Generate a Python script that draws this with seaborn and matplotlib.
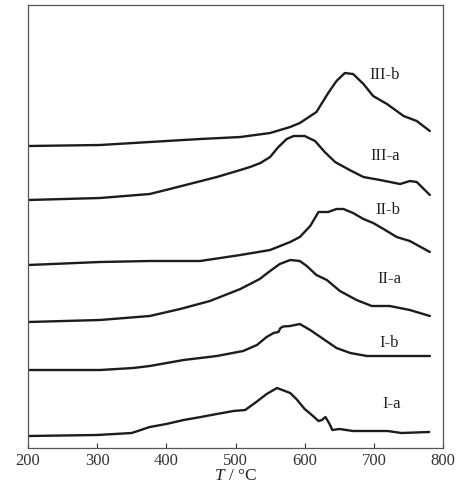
import numpy as np
import pandas as pd
import matplotlib
matplotlib.use("Agg")
import matplotlib.pyplot as plt
import seaborn as sns

# ==========================================================
# DATA (arbitrary signal units)
# ==========================================================

labels = ["I-a", "I-b", "II-a", "II-b", "III-a", "III-b"]
offsets = [12, 78, 126, 183, 248, 302]

t_ia = [200, 300, 350, 376, 400, 425, 450, 473, 497, 514, 530, 545, 560,
        579, 588, 600, 612, 620, 625, 630, 636, 640, 650, 670, 720, 740, 780]
s_ia = [0, 1, 3, 9, 12, 16, 19, 22, 25, 26, 34, 42, 48,
        43, 37, 27, 20, 15, 16, 19, 12, 6, 7, 5, 5, 3, 4]

t_ib = [200, 304, 352, 376, 425, 473, 511, 531, 545, 555, 562, 565, 569,
        579, 593, 608, 627, 646, 666, 690, 781]
s_ib = [0, 0, 2, 4, 10, 14, 19, 25, 33, 37, 38, 42, 43.5,
        44, 46, 40, 31, 22, 17, 14, 14]

t_iia = [200, 304, 376, 420, 463, 507, 535, 550, 564, 579, 593, 603, 617,
         632, 651, 675, 697, 723, 752, 781]
s_iia = [0, 2, 6, 13, 21, 33, 43, 51, 58, 62, 61, 56, 47,
         42, 31, 22, 16, 16, 12, 6]

t_iib = [200, 304, 376, 449, 507, 550, 579, 593, 608, 620, 627, 634, 646,
         656, 670, 685, 699, 714, 733, 752, 781]
s_iib = [0, 3, 4, 4, 10, 15, 23, 28, 39, 53, 53, 53, 56,
         56, 52, 46, 42, 36, 28, 24, 13]

t_iiia = [200, 304, 376, 405, 439, 473, 507, 521, 536, 550, 562, 574, 584,
          600, 615, 629, 644, 665, 685, 709, 738, 752, 762, 781]
s_iiia = [0, 2, 6, 11, 17, 23, 30, 33, 37, 43, 53, 61, 64,
          64, 59, 48, 38, 30, 23, 20, 16, 19, 18, 5]

t_iiib = [200, 304, 376, 449, 507, 550, 579, 593, 617, 634, 646, 658,
          670, 685, 699, 719, 743, 762, 781]
s_iiib = [0, 1, 4, 7, 9, 13, 19, 23, 34, 53, 65, 73,
          72, 62, 50, 42, 30, 25, 15]

temps = [t_ia, t_ib, t_iia, t_iib, t_iiia, t_iiib]
signals = [s_ia, s_ib, s_iia, s_iib, s_iiia, s_iiib]

# ==========================================================
# STYLE
# ==========================================================

sns.set_style("ticks")
plt.rcParams["font.family"] = ["Liberation Serif", "DejaVu Serif"]
plt.rcParams["mathtext.fontset"] = "custom"
plt.rcParams["mathtext.rm"] = "Liberation Serif"
plt.rcParams["mathtext.it"] = "Liberation Serif:italic"

# ==========================================================
# PLOT
# ==========================================================

fig = plt.figure(figsize=(4.62, 4.89), dpi=100)
ax = fig.add_axes([0.0606, 0.0818, 0.8983, 0.9059])

for name, t, s, off in zip(labels, temps, signals, offsets):
    df = pd.DataFrame({"T": t, "y": np.array(s) + off})
    sns.lineplot(data=df, x="T", y="y", color="#1c1c1c", lw=1.7,
                 ax=ax, sort=False, solid_joinstyle="round",
                 solid_capstyle="round")

# label anchor points (temperature, height)
label_pos = [(726, 45), (722, 106), (722, 170), (720, 239), (716, 293), (716, 374)]
for name, (tx, ty) in zip(labels, label_pos):
    ax.text(tx, ty, name, fontsize=12, ha="center", va="center",
            color="#222222")

ax.set_xlim(200, 800)
ax.set_ylim(0, 443)
ax.set_xticks([200, 300, 400, 500, 600, 700, 800])
ax.set_yticks([])
ax.tick_params(axis="x", direction="in", length=3.5, width=0.8,
               labelsize=12, pad=3, colors="#333333")
ax.set_xlabel("$T$ / °C", fontsize=12.5, labelpad=-1, color="#222222")
ax.set_ylabel("")
for sp in ax.spines.values():
    sp.set_color("#555555")
    sp.set_linewidth(0.9)

fig.savefig("out.png", dpi=100)
